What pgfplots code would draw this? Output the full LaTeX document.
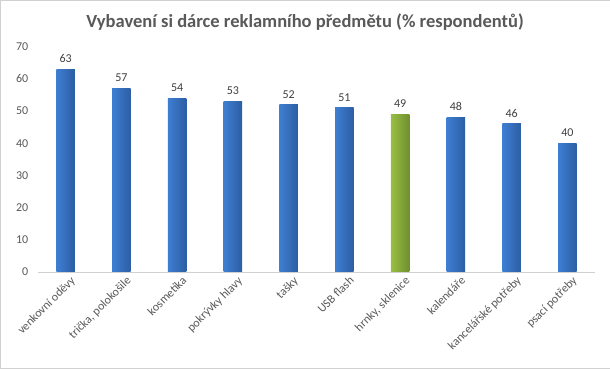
\documentclass[border=0pt]{standalone}
\usepackage{fontspec}
\setmainfont{Carlito}
\usepackage{pgfplots}
\pgfplotsset{compat=1.18}
\definecolor{txt}{HTML}{595959}
\definecolor{val}{HTML}{404040}
\definecolor{bL}{HTML}{3E7ED2}
\definecolor{bM}{HTML}{4A8BE0}
\definecolor{bR}{HTML}{2C5EA3}
\definecolor{gL}{HTML}{98BF45}
\definecolor{gM}{HTML}{A6CE50}
\definecolor{gR}{HTML}{708F2E}
\pgfplotsset{blue bar/.style={draw=none, left color=bL, middle color=bM, right color=bR},
             green bar/.style={draw=none, left color=gL, middle color=gM, right color=gR}}
\begin{document}
\begin{tikzpicture}[x=1pt,y=1pt]
\draw[draw=black!18, fill=white] (0.5,0.5) rectangle (609.5,368.5);
\node[font=\bfseries\fontsize{18.5}{22}\selectfont, text=txt] at (305,347) {Vybavení si dárce reklamního předmětu (\% respondentů)};
\begin{axis}[at={(38pt,97pt)}, anchor=south west, scale only axis,
  width=557pt, height=225pt,
  xmin=-0.5, xmax=9.5, ymin=0, ymax=70,
  ytick={0,10,...,70},
  xtick={0,...,9},
  xticklabels={{venkovní oděvy}, {trička, polokošile}, {kosmetika}, {pokrývky hlavy}, {tašky}, {USB flash}, {hrnky, sklenice}, {kalendáře}, {kancelářské potřeby}, {psací potřeby}},
  axis line style={draw=none},
  major tick length=0pt,
  tick style={draw=none},
  ticklabel style={font=\fontsize{12}{14}\selectfont, text=txt},
  yticklabel style={xshift=-6pt},
  xticklabel style={rotate=45, anchor=north east, xshift=4pt, yshift=-2pt},
  /pgf/number format/assume math mode=true,
  ybar, bar width=18.5pt, bar shift=0pt,
  nodes near coords,
  nodes near coords style={font=\fontsize{12}{14}\selectfont, text=val, yshift=3pt},
  clip=false,
]
\addplot[blue bar] coordinates {(0,63)};
\addplot[blue bar] coordinates {(1,57)};
\addplot[blue bar] coordinates {(2,54)};
\addplot[blue bar] coordinates {(3,53)};
\addplot[blue bar] coordinates {(4,52)};
\addplot[blue bar] coordinates {(5,51)};
\addplot[green bar] coordinates {(6,49)};
\addplot[blue bar] coordinates {(7,48)};
\addplot[blue bar] coordinates {(8,46)};
\addplot[blue bar] coordinates {(9,40)};
\draw[black!18, line width=0.8pt] (axis cs:-0.5,0) -- (axis cs:9.5,0);
\end{axis}
\end{tikzpicture}
\end{document}
